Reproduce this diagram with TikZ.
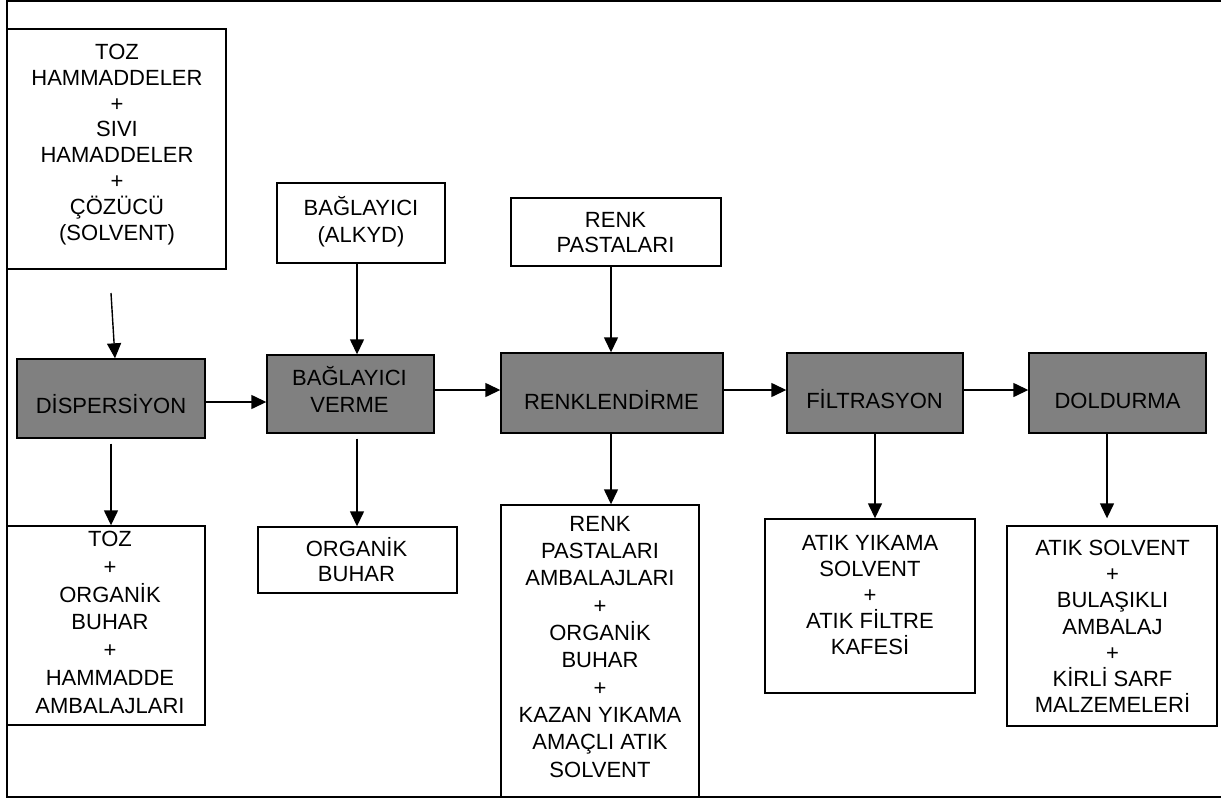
\documentclass[tikz,border=0pt]{standalone}
\usepackage{fontspec}
\setmainfont{Liberation Sans}
\usetikzlibrary{arrows.meta,calc}
\definecolor{procgray}{RGB}{128,128,128}
\begin{document}
\begin{tikzpicture}[x=1pt,y=-1pt,
  box/.style={draw=black,line width=1.4pt,rectangle,inner sep=0pt},
  proc/.style={box,fill=procgray},
  txt/.style={align=center,inner sep=0pt,anchor=north,execute at begin node={\rule{0pt}{21pt}}},
  arr/.style={line width=1.4pt,-{Triangle[length=15pt,width=14pt]}},
  frame/.style={line width=1.6pt}]
\useasboundingbox (0,0) rectangle (1221,798);
\fill[white] (0,0) rectangle (1221,798);
% frame
\draw[frame] (1221,1) -- (7,1) -- (7,797) -- (1221,797);
% helper coordinates
\coordinate (x115) at (115,0);
\coordinate (x357) at (357,0);
\coordinate (x611) at (611,0);
\coordinate (x1107) at (1107,0);
\coordinate (y402) at (0,402);
\coordinate (y390) at (0,390);
% input boxes
\node[box,minimum width=219pt,minimum height=240pt] (src1) at (116.5,149) {};
\node[txt,font=\fontsize{22}{25.8}\selectfont] (src1t) at (117,44) {TOZ\\HAMMADDELER\\+\\SIVI\\HAMADDELER\\+\\ÇÖZÜCÜ\\(SOLVENT)};
\node[box,minimum width=168pt,minimum height=80pt] (bagsrc) at (361,223) {};
\node[txt,font=\fontsize{22}{27}\selectfont] (bagsrct) at (361,196) {BAĞLAYICI\\(ALKYD)};
\node[box,minimum width=210pt,minimum height=68pt] (renksrc) at (616,232) {};
\node[txt,font=\fontsize{22}{25}\selectfont] (renksrct) at (615.5,212) {RENK\\PASTALARI};
% process boxes
\node[proc,minimum width=188pt,minimum height=79pt] (disp) at (111,398.5) {};
\node[txt,font=\fontsize{22}{25}\selectfont] (dispt) at (111,392) {DİSPERSİYON};
\node[proc,minimum width=167pt,minimum height=78pt] (bag) at (350.5,394) {};
\node[txt,font=\fontsize{22}{27}\selectfont] (bagt) at (349.5,366) {BAĞLAYICI\\VERME};
\node[proc,minimum width=222pt,minimum height=80pt] (renk) at (612,393) {};
\node[txt,font=\fontsize{22}{25}\selectfont] (renkt) at (611.5,388) {RENKLENDİRME};
\node[proc,minimum width=176pt,minimum height=80pt] (filt) at (875,393) {};
\node[txt,font=\fontsize{22}{25}\selectfont] (filtt) at (874.5,387) {FİLTRASYON};
\node[proc,minimum width=177pt,minimum height=80pt] (dold) at (1117.5,393) {};
\node[txt,font=\fontsize{22}{25}\selectfont] (doldt) at (1117.5,387) {DOLDURMA};
% output boxes
\node[box,minimum width=198pt,minimum height=199pt] (out1) at (106,625.5) {};
\node[txt,font=\fontsize{22}{27.8}\selectfont] (out1t) at (110,531) {TOZ\\+\\ORGANİK\\BUHAR\\+\\HAMMADDE\\AMBALAJLARI};
\node[box,minimum width=199pt,minimum height=66pt] (out2) at (357.5,560) {};
\node[txt,font=\fontsize{22}{25}\selectfont] (out2t) at (356.5,537) {ORGANİK\\BUHAR};
\node[box,minimum width=198pt,minimum height=292pt] (out3) at (600,651) {};
\node[txt,font=\fontsize{22}{27.3}\selectfont] (out3t) at (600,516) {RENK\\PASTALARI\\AMBALAJLARI\\+\\ORGANİK\\BUHAR\\+\\KAZAN YIKAMA\\AMAÇLI ATIK\\SOLVENT};
\node[box,minimum width=210pt,minimum height=174pt] (out4) at (870,606) {};
\node[txt,font=\fontsize{22}{26}\selectfont] (out4t) at (870,535) {ATIK YIKAMA\\SOLVENT\\+\\ATIK FİLTRE\\KAFESİ};
\node[box,minimum width=210pt,minimum height=200pt] (out5) at (1112,626) {};
\node[txt,font=\fontsize{22}{26.2}\selectfont] (out5t) at (1112.5,540) {ATIK SOLVENT\\+\\BULAŞIKLI\\AMBALAJ\\+\\KİRLİ SARF\\MALZEMELERİ};
% connectors
\coordinate (a1s) at (111,293);
\draw[arr] (a1s) -- (x115 |- disp.north);
\draw[arr] (disp.east |- y402) -- (bag.west |- y402);
\draw[arr] (bagsrc.south -| x357) -- (bag.north -| x357);
\draw[arr] (bag.east |- y390) -- (renk.west |- y390);
\draw[arr] (renksrc.south -| x611) -- (renk.north -| x611);
\draw[arr] (renk.east |- y390) -- (filt.west |- y390);
\draw[arr] (filt.east |- y390) -- (dold.west |- y390);
\draw[arr] ($(disp.south)+(0,5)$) -- (disp.south |- out1.north);
\draw[arr] ($(bag.south -| x357)+(0,5)$) -- (out2.north -| x357);
\draw[arr] (renk.south -| x611) -- (out3.north -| x611);
\draw[arr] (filt.south) -- (filt.south |- out4.north);
\draw[arr] (dold.south -| x1107) -- ($(out5.north -| x1107)+(0,-7)$);
\end{tikzpicture}
\end{document}
